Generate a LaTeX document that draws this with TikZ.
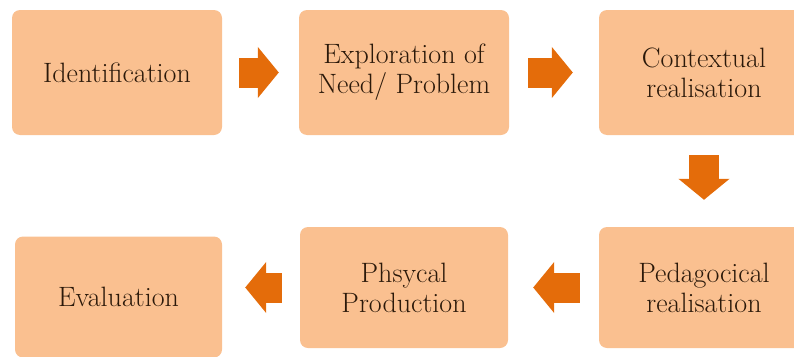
\documentclass[tikz,border=0pt]{standalone}
\usetikzlibrary{calc, arrows.meta}
\definecolor{Peach}{HTML}{FAC090}
\definecolor{Orange}{HTML}{E46C0A}
\definecolor{Ink}{HTML}{2B190A}

\begin{document}
\begin{tikzpicture}[
    x=1pt, y=-1pt,
    stageBox/.style={rectangle, rounded corners=8pt, fill=Peach, text=Ink,
      minimum width=210pt, minimum height=125pt, inner sep=0pt, align=center,
      font=\fontsize{28}{30}\selectfont},
    fatArrow/.style={draw=Orange, line width=30pt,
      -{Triangle[width=50pt, length=21pt]}},
  ]
  \useasboundingbox (0,0) rectangle (794,356);
  % top row
  \node[stageBox] (ident)   at (117,72.5) {Identification};
  \node[stageBox] (explore) at (404,72.5) {Exploration of\\Need/ Problem};
  \node[stageBox] (context) at (704,72.5) {Contextual\\realisation};
  % bottom row
  \node[stageBox, minimum height=121pt] (peda) at (704,287.5) {Pedagocical\\realisation};
  \node[stageBox, minimum height=121pt, minimum width=208pt] (phys) at (404,287.5) {Phsycal\\Production};
  \node[stageBox, minimum height=121pt, minimum width=207pt] (eval) at (118.5,297) {Evaluation};
  % arrows
  \draw[fatArrow, shorten <=17pt, shorten >=20pt] (ident) -- (explore);
  \draw[fatArrow, shorten <=19pt, shorten >=26pt] (explore) -- (context);
  \draw[fatArrow, shorten <=20pt, shorten >=27pt] (context) -- (peda);
  \draw[fatArrow, shorten <=19pt, shorten >=25pt] (peda) -- (phys);
  \draw[fatArrow, shorten <=18pt, shorten >=23pt] (phys.west) -- (eval.east |- phys.west);
\end{tikzpicture}
\end{document}
